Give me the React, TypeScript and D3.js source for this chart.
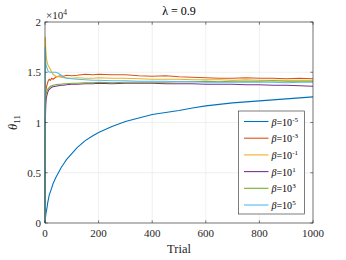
import React from 'react';
import * as d3 from 'd3';

const trials = [0, 1, 2, 3, 4, 6, 8, 10, 13, 16, 20, 25, 30, 40, 50, 60, 70, 80, 100, 120, 150, 180, 200, 250, 300, 350, 400, 450, 500, 550, 600, 650, 700, 750, 800, 850, 900, 950, 1000];

const betaExp = ['-5', '-3', '-1', '1', '3', '5'];
const colors = ['#0072BD', '#D95319', '#EDB120', '#7E2F8E', '#77AC30', '#4DBEEE'];

// values in units of 1e4
const s1 = [0, 0.04, 0.06, 0.08, 0.1, 0.13, 0.16, 0.2, 0.24, 0.28, 0.31, 0.35, 0.39, 0.45, 0.5, 0.55, 0.59, 0.63, 0.69, 0.75, 0.82, 0.87, 0.9, 0.96, 1.01, 1.045, 1.08, 1.1, 1.12, 1.145, 1.165, 1.18, 1.195, 1.205, 1.215, 1.225, 1.235, 1.245, 1.255];
const s2 = [0, 1.1, 1.25, 1.3, 1.33, 1.36, 1.38, 1.4, 1.42, 1.43, 1.42, 1.44, 1.43, 1.45, 1.46, 1.465, 1.46, 1.47, 1.465, 1.47, 1.48, 1.475, 1.48, 1.475, 1.475, 1.465, 1.46, 1.465, 1.455, 1.45, 1.445, 1.44, 1.44, 1.445, 1.44, 1.44, 1.435, 1.44, 1.435];
const s3 = [0, 1.85, 1.78, 1.72, 1.68, 1.63, 1.6, 1.58, 1.56, 1.55, 1.53, 1.5, 1.48, 1.46, 1.455, 1.45, 1.445, 1.445, 1.44, 1.445, 1.44, 1.44, 1.445, 1.44, 1.44, 1.435, 1.43, 1.43, 1.43, 1.425, 1.425, 1.425, 1.42, 1.425, 1.42, 1.42, 1.42, 1.42, 1.42];
const s4 = [0, 1.0, 1.1, 1.18, 1.22, 1.26, 1.28, 1.3, 1.32, 1.33, 1.34, 1.35, 1.355, 1.36, 1.365, 1.37, 1.37, 1.375, 1.38, 1.38, 1.385, 1.385, 1.39, 1.385, 1.39, 1.39, 1.39, 1.385, 1.385, 1.385, 1.38, 1.38, 1.38, 1.375, 1.375, 1.37, 1.37, 1.365, 1.36];
const s5 = [0, 1.1, 1.22, 1.26, 1.28, 1.3, 1.32, 1.33, 1.34, 1.35, 1.36, 1.365, 1.37, 1.375, 1.38, 1.38, 1.385, 1.385, 1.39, 1.39, 1.395, 1.395, 1.4, 1.395, 1.4, 1.4, 1.4, 1.4, 1.405, 1.405, 1.41, 1.405, 1.41, 1.41, 1.41, 1.415, 1.41, 1.41, 1.41];
const s6 = [0, 1.75, 1.65, 1.6, 1.57, 1.55, 1.54, 1.52, 1.51, 1.5, 1.5, 1.5, 1.5, 1.5, 1.49, 1.47, 1.45, 1.44, 1.435, 1.43, 1.425, 1.42, 1.42, 1.415, 1.415, 1.41, 1.41, 1.41, 1.405, 1.405, 1.4, 1.4, 1.4, 1.4, 1.4, 1.4, 1.395, 1.4, 1.4];
const series = [s1, s2, s3, s4, s5, s6];

const xTicks = [0, 200, 400, 600, 800, 1000];
const yTicks = [0, 0.5, 1, 1.5, 2];

export default function App() {
  const W = 346, H = 260;
  const left = 45, right = 313, top = 22, bottom = 223;
  const x = d3.scaleLinear().domain([0, 1000]).range([left, right]);
  const y = d3.scaleLinear().domain([0, 2]).range([bottom, top]);
  const line = d3.line<number>().x((d, i) => x(trials[i])).y(d => y(d));
  const font = 'Liberation Serif, DejaVu Serif, Noto Serif, Times, serif';

  const lg = { x0: 238.5, y0: 111, w: 66, h: 103, row: 16.7 };

  return (
    <svg width={W} height={H} style={{ position: 'absolute', left: 0, top: 0, background: '#fff' }}>
      <g fontFamily={font}>
        <rect x={0} y={0} width={W} height={H} fill="#fff" />
        {xTicks.map(t => (
          <line key={'gx' + t} x1={x(t)} x2={x(t)} y1={top} y2={bottom} stroke="#e6e6e6" strokeWidth={0.6} />
        ))}
        {yTicks.map(t => (
          <line key={'gy' + t} x1={left} x2={right} y1={y(t)} y2={y(t)} stroke="#e6e6e6" strokeWidth={0.6} />
        ))}
        {series.map((s, i) => (
          <path key={i} d={line(s) || ''} fill="none" stroke={colors[i]} strokeWidth={1.1} />
        ))}
        <rect x={left} y={top} width={right - left} height={bottom - top} fill="none" stroke="#262626" strokeWidth={0.6} />
        {xTicks.map(t => (
          <g key={'tx' + t}>
            <line x1={x(t)} x2={x(t)} y1={bottom} y2={bottom - 2.7} stroke="#262626" strokeWidth={0.6} />
            <line x1={x(t)} x2={x(t)} y1={top} y2={top + 2.7} stroke="#262626" strokeWidth={0.6} />
            <text x={x(t)} y={bottom + 14} textAnchor="middle" fontSize={11} fill="#262626">{t}</text>
          </g>
        ))}
        {yTicks.map(t => (
          <g key={'ty' + t}>
            <line x1={left} x2={left + 2.7} y1={y(t)} y2={y(t)} stroke="#262626" strokeWidth={0.6} />
            <line x1={right} x2={right - 2.7} y1={y(t)} y2={y(t)} stroke="#262626" strokeWidth={0.6} />
            <text x={left - 4} y={y(t) + 4} textAnchor="end" fontSize={11} fill="#262626">{t}</text>
          </g>
        ))}
        <text x={left + 1} y={top - 3} fontSize={11} fill="#262626">
          ×10<tspan fontSize={7.5} dy={-4}>4</tspan>
        </text>
        <text x={(left + right) / 2} y={15} textAnchor="middle" fontSize={12} fill="#000">λ = 0.9</text>
        <text x={(left + right) / 2} y={253} textAnchor="middle" fontSize={12.5} fill="#262626">Trial</text>
        <text transform={`translate(${17},${(top + bottom) / 2}) rotate(-90)`} textAnchor="middle" fontSize={12.5} fill="#262626">
          <tspan fontStyle="italic">θ</tspan><tspan fontSize={9} dy={3}>11</tspan>
        </text>
        <rect x={lg.x0} y={lg.y0} width={lg.w} height={lg.h} fill="#fff" stroke="#262626" strokeWidth={0.6} />
        {betaExp.map((e, i) => {
          const cy = lg.y0 + 10.5 + i * lg.row;
          return (
            <g key={'l' + i}>
              <line x1={lg.x0 + 5.5} x2={lg.x0 + 30} y1={cy} y2={cy} stroke={colors[i]} strokeWidth={1.1} />
              <text x={lg.x0 + 33} y={cy + 4} fontSize={10} fill="#000">
                <tspan fontStyle="italic">β</tspan>=10<tspan fontSize={7} dy={-4}>{e}</tspan>
              </text>
            </g>
          );
        })}
      </g>
    </svg>
  );
}
